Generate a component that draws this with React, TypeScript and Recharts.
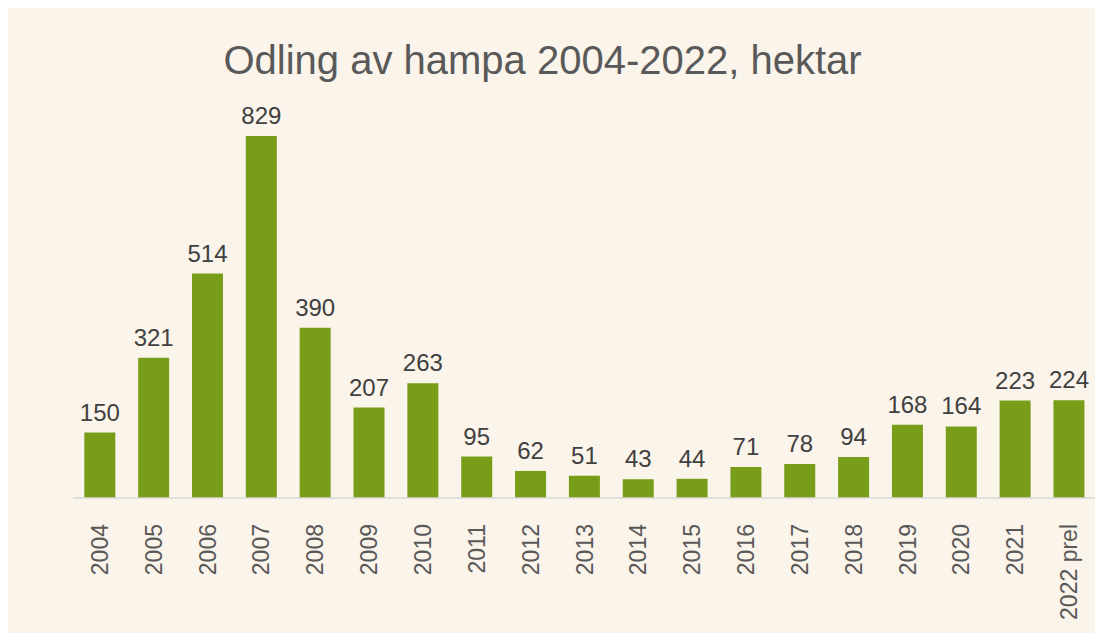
import { BarChart, Bar, XAxis, YAxis, LabelList } from 'recharts';

const years = ['2004', '2005', '2006', '2007', '2008', '2009', '2010', '2011', '2012', '2013', '2014', '2015', '2016', '2017', '2018', '2019', '2020', '2021', '2022 prel'];
const hectares = [150, 321, 514, 829, 390, 207, 263, 95, 62, 51, 43, 44, 71, 78, 94, 168, 164, 223, 224];

const data = years.map((year, i) => ({ year, value: hectares[i] }));

const FONT = '"Liberation Sans", Arial, sans-serif';

function YearTick({ x, y, payload }: any) {
  return (
    <text
      x={0}
      y={0}
      transform={`translate(${x + 8},${y + 18}) rotate(-90)`}
      textAnchor="end"
      fill="#595959"
      fontSize={23}
      fontFamily={FONT}
    >
      {payload.value}
    </text>
  );
}

export default function App() {
  return (
    <div style={{ position: 'relative', width: 1088, height: 625, background: '#FBF4EA' }}>
      <div
        style={{
          position: 'absolute',
          top: 29,
          left: 0,
          width: 1069,
          textAlign: 'center',
          fontFamily: FONT,
          fontSize: 40,
          lineHeight: '46px',
          color: '#595959',
        }}
      >
        Odling av hampa 2004-2022, hektar
      </div>
      <BarChart
        width={1088}
        height={625}
        data={data}
        margin={{ top: 97, right: 0, left: 65, bottom: 0 }}
        barCategoryGap="21%"
      >
        <XAxis
          dataKey="year"
          interval={0}
          height={135}
          tick={<YearTick />}
          tickLine={false}
          axisLine={{ stroke: '#D9D9D9', strokeWidth: 1.5 }}
        />
        <YAxis hide domain={[0, 900]} />
        <Bar dataKey="value" fill="#789D18" isAnimationActive={false}>
          <LabelList dataKey="value" position="top" offset={12} fill="#404040" fontSize={24} fontFamily={FONT} />
        </Bar>
      </BarChart>
    </div>
  );
}
